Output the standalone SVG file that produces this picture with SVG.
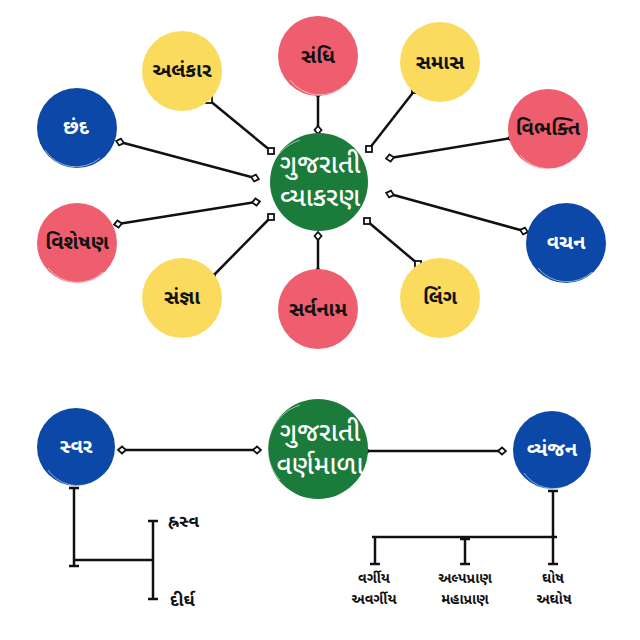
<svg xmlns="http://www.w3.org/2000/svg" width="640" height="640" viewBox="0 0 640 640">
<style>
.bg{fill:#ffffff}
.yel{fill:#FADB5E}
.red{fill:#EE5E6E}
.blu{fill:#0B48A8}
.grn{fill:#1B7B3B}
.brush{fill:none;stroke:#ffffff;stroke-opacity:0.55;stroke-width:1}
.lbl{font-family:"Noto Sans Gujarati","Lohit Gujarati","Noto Sans",sans-serif;font-weight:700;font-size:20px;text-anchor:middle;fill:#111111}
.lblw{fill:#ffffff}
.ctr{font-family:"Noto Sans Gujarati","Lohit Gujarati","Noto Sans",sans-serif;font-weight:500;font-size:26px;text-anchor:middle;fill:#ffffff}
.sub{font-family:"Noto Sans Gujarati","Lohit Gujarati","Noto Sans",sans-serif;font-weight:700;font-size:17px;fill:#111111}
.small{font-family:"Noto Sans Gujarati","Lohit Gujarati","Noto Sans",sans-serif;font-weight:700;font-size:14px;text-anchor:middle;fill:#111111}
.ln{stroke:#111111;stroke-width:2.5;fill:none}
.dl{marker-start:url(#dia);marker-end:url(#dia)}
.sl{marker-start:url(#sq);marker-end:url(#sq)}
</style>
<defs>
<marker id="dia" viewBox="-5 -5 10 10" markerWidth="10" markerHeight="10" markerUnits="userSpaceOnUse" orient="auto">
<path d="M-4,0 L0,-3.5 L4,0 L0,3.5 Z" fill="#ffffff" stroke="#111111" stroke-width="1.8"/>
</marker>
<marker id="sq" viewBox="-5 -5 10 10" markerWidth="10" markerHeight="10" markerUnits="userSpaceOnUse" orient="0">
<rect x="-3" y="-3" width="6" height="6" fill="#ffffff" stroke="#111111" stroke-width="1.8"/>
</marker>
</defs>
<rect class="bg" x="0" y="0" width="640" height="640"/>

<g id="connectors">
<line class="ln dl" x1="318" y1="93" x2="318" y2="130"/>
<line class="ln sl" x1="209" y1="100" x2="271" y2="151"/>
<line class="ln sl" x1="415" y1="90" x2="369" y2="149"/>
<line class="ln dl" x1="120" y1="142" x2="255" y2="178"/>
<line class="ln dl" x1="512" y1="138" x2="390" y2="158"/>
<line class="ln dl" x1="118" y1="224" x2="256" y2="202"/>
<line class="ln dl" x1="524" y1="231" x2="390" y2="194"/>
<line class="ln sl" x1="212" y1="277" x2="271" y2="217"/>
<line class="ln dl" x1="318" y1="236" x2="318" y2="272"/>
<line class="ln sl" x1="418" y1="264" x2="367" y2="221"/>
<line class="ln dl" x1="122" y1="450" x2="257" y2="450"/>
<line class="ln dl" x1="365" y1="451" x2="502" y2="451"/>
<path class="ln" d="M74,488 V566 M69,488 H79 M69,566 H79 M74,560 H153 M153,521 V599 M148,521 H158 M148,599 H158"/>
<path class="ln" d="M553,491 V537 M548,491 H558 M372,537 H557 M375,537 V564 M465,539 V564 M553,537 V564 M370,564 H380 M460,564 H470 M548,564 H558 M460,539 H470"/>
</g>

<g id="center-vyakaran">
<circle class="grn" cx="319" cy="182" r="49"/>
<path class="brush" d="M280,215 A46,46 0 0 1 300,140"/>
<text class="ctr" x="320" y="173">ગુજરાતી</text>
<text class="ctr" x="320" y="206">વ્યાકરણ</text>
</g>
<g id="sandhi"><circle class="red" cx="318" cy="56" r="40"/><path class="brush" d="M290,80 A37,37 0 0 0 345,85"/><text class="lbl" x="318" y="63">સંધિ</text></g>
<g id="alankar"><circle class="yel" cx="182" cy="71" r="40"/><text class="lbl" x="182" y="77">અલંકાર</text></g>
<g id="samas"><circle class="yel" cx="440" cy="62" r="40"/><text class="lbl" x="440" y="69">સમાસ</text></g>
<g id="chhand"><circle class="blu" cx="77" cy="128" r="40"/><path class="brush" d="M45,150 A37,37 0 0 0 100,158"/><text class="lbl lblw" x="76" y="134">છંદ</text></g>
<g id="vibhakti"><circle class="red" cx="548" cy="129" r="40"/><path class="brush" d="M520,155 A37,37 0 0 0 575,158"/><text class="lbl" x="548" y="135">વિભક્તિ</text></g>
<g id="visheshan"><circle class="red" cx="77" cy="243" r="40"/><path class="brush" d="M48,268 A37,37 0 0 0 103,272"/><text class="lbl" x="77" y="249">વિશેષણ</text></g>
<g id="vachan"><circle class="blu" cx="566" cy="243" r="40"/><path class="brush" d="M538,268 A37,37 0 0 0 592,272"/><text class="lbl lblw" x="566" y="249">વચન</text></g>
<g id="sangna"><circle class="yel" cx="182" cy="298" r="40"/><text class="lbl" x="182" y="304">સંજ્ઞા</text></g>
<g id="sarvanam"><circle class="red" cx="318" cy="309" r="40"/><text class="lbl" x="318" y="316">સર્વનામ</text></g>
<g id="ling"><circle class="yel" cx="440" cy="298" r="40"/><text class="lbl" x="440" y="304">લિંગ</text></g>

<g id="center-varnamala">
<circle class="grn" cx="318" cy="449" r="50"/>
<path class="brush" d="M280,480 A46,46 0 0 1 300,405"/>
<text class="ctr" x="320" y="441">ગુજરાતી</text>
<text class="ctr" x="320" y="474">વર્ણમાળા</text>
</g>
<g id="svar"><circle class="blu" cx="76" cy="447" r="39"/><path class="brush" d="M48,470 A36,36 0 0 0 104,474"/><text class="lbl lblw" x="76" y="453">સ્વર</text></g>
<g id="vyanjan"><circle class="blu" cx="552" cy="450" r="39"/><path class="brush" d="M524,473 A36,36 0 0 0 580,477"/><text class="lbl lblw" x="552" y="456">વ્યંજન</text></g>

<g id="hrasva"><text class="sub" x="168" y="527">હ્રસ્વ</text></g>
<g id="dirgh"><text class="sub" x="170" y="606">દીર્ઘ</text></g>
<g id="vargiya"><text class="small" x="374" y="583">વર્ગીય</text><text class="small" x="374" y="604">અવર્ગીય</text></g>
<g id="alpapran"><text class="small" x="465" y="583">અલ્પપ્રાણ</text><text class="small" x="465" y="604">મહાપ્રાણ</text></g>
<g id="ghosh"><text class="small" x="553" y="583">ઘોષ</text><text class="small" x="554" y="604">અઘોષ</text></g>
</svg>
